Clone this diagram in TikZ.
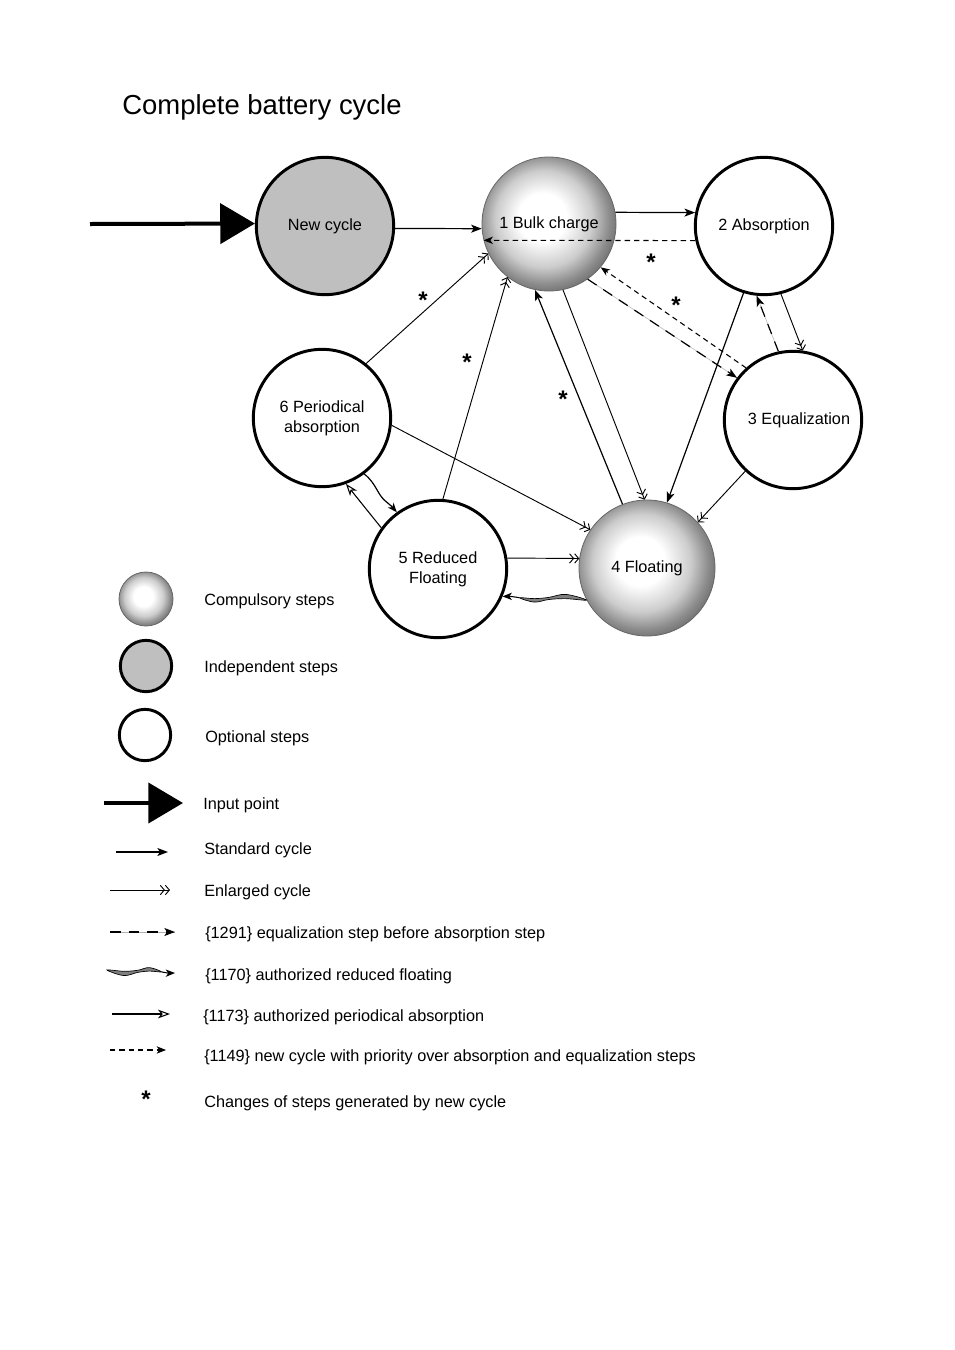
\documentclass[tikz,border=0pt]{standalone}
\usepackage{fontspec}
\setmainfont{Liberation Sans}
\usetikzlibrary{arrows.meta,calc}
\pgfdeclareradialshading{sphere}{\pgfpoint{-3bp}{3bp}}{color(0bp)=(white); color(9bp)=(white); color(18bp)=(black!20); color(24bp)=(black!45); color(28bp)=(black!58); color(50bp)=(black!58)}
\newcommand\swp[3]{($(\tikztostart)!#1!(\tikztotarget)!#2!#3:(\tikztotarget)$)}
\begin{document}
\begin{tikzpicture}[x=0.75pt,y=-0.75pt,
  every node/.style={font=\fontsize{12.2}{15}\selectfont},
  opt/.style={circle, draw, line width=2.2pt, fill=white, inner sep=0pt, minimum size=#1, align=center},
  comp/.style={circle, draw=black!60, line width=0.6pt, shading=sphere, inner sep=0pt, minimum size=#1, align=center},
  std/.style={line width=0.9pt, -{Stealth[length=8pt,width=6pt,inset=2pt]}},
  enl/.style={line width=0.7pt, -{Straight Barb[length=3pt,width=7pt] Straight Barb[length=3pt,width=7pt]}},
  eqd/.style={line width=0.9pt, dash pattern=on 8pt off 6pt, -{Stealth[length=8pt,width=6pt,inset=2pt]}, preaction={draw=black!30, line width=0.4pt, solid, arrows=-}},
  prio/.style={line width=0.8pt, dash pattern=on 4pt off 3pt, -{Stealth[length=7pt,width=5.5pt,inset=2pt]}},
  opd/.style={line width=0.8pt, -{Stealth[open,length=9pt,width=6.5pt,inset=2.5pt]}},
  inp/.style={line width=3pt, -{Triangle[length=26pt,width=30pt]}},
  lens/.style={fill=black!50, draw=black, line width=0.5pt, to path={
    plot[smooth cycle, tension=0.6] coordinates {(\tikztostart) \swp{0.25}{3.6pt}{-90} \swp{0.45}{0.8pt}{-90} \swp{0.62}{0.6pt}{90} \swp{0.8}{0.4pt}{90} \swp{0.62}{3.2pt}{90} \swp{0.45}{0.8pt}{90} \swp{0.25}{0.4pt}{-90}}}},
  tail/.style={line width=0.8pt, -{Stealth[length=7pt,width=5.5pt,inset=2pt]}, to path={\swp{0.8}{0.4pt}{90} .. controls \swp{0.9}{0.3pt}{-90} .. (\tikztotarget)}},
  wave/.style={line width=0.9pt, -{Stealth[length=7pt,width=5.5pt,inset=2pt]}, to path={(\tikztostart) .. controls \swp{0.3}{2.5pt}{90} and \swp{0.5}{3pt}{-90} .. \swp{0.72}{0.8pt}{-90} .. controls \swp{0.85}{0pt}{90} .. (\tikztotarget)}},
  stars/.style={font=\fontsize{18}{18}\bfseries, inner sep=0pt},
  lt/.style={anchor=west, inner sep=0pt}
]
\fill[white] (0,0) rectangle (954,1350);
\useasboundingbox (0,0) rectangle (954,1350);

\node[anchor=west, inner sep=0pt, font=\fontsize{20.6}{24}\selectfont] (title) at (122,107) {Complete battery cycle};

% main nodes
\node[opt=103pt, fill=black!25] (N) at (325,226) {New cycle};
\node[comp=100.5pt] (B) at (549,224) {1 Bulk charge};
\node[opt=103pt] (A) at (764,226) {2 Absorption};
\node[opt=103pt] (E) at (793,420) {\hspace*{9pt}3 Equalization};
\node[comp=102pt] (F) at (647,568) {4 Floating};
\node[opt=103pt] (R) at (438,569) {5 Reduced\\Floating};
\node[opt=103pt] (P) at (322,418) {6 Periodical\\absorption\hspace*{0pt}};

% input
\coordinate (in) at (90,224);
\draw[inp] (in) -- (N.178);

% connectors
\draw[std] (N.-2) -- (B.184);
\draw[std] (B.10) -- (A.169);
\draw[prio] (A.192) -- (B.194);
\draw[eqd] (B.-55) -- (E.143);
\draw[prio] (E.132) -- (B.-40);
\draw[enl] (A.-76) -- (E.82);
\draw[eqd] (E.102) -- (A.-96);
\draw[std] (A.-107) -- (F.73);
\draw[enl] (E.227) -- (F.42);
\draw[enl] (B.-78) -- (F.92);
\draw[std] (F.111) -- (B.-102);
\draw[enl] (P.51) -- (B.206);
\draw[enl] (R.86) -- (B.232);
\draw[enl] (P.-6) -- (F.146);
\draw[enl] (R.9) -- (F.172);
\draw[lens] (F.208) to (R.-23);
\draw[tail] (F.208) to (R.-23);
\draw[opd] (R.144) -- (P.-70);
\draw[wave] (P.-53) to (R.126);

% stars
\node[stars] (s1) at (651,262) {*};
\node[stars] (s2) at (676,305) {*};
\node[stars] (s3) at (563,399) {*};
\node[stars] (s4) at (423,300) {*};
\node[stars] (s5) at (467,362) {*};

% legend
\node[comp=40.5pt] (lc) at (146,599) {};
\node[opt=38.5pt, fill=black!25] (li) at (146,666) {};
\node[opt=38.5pt] (lo) at (145,735) {};
\node[lt] (tc) at (204,601) {Compulsory steps};
\node[lt] (ti) at (204,668) {Independent steps};
\node[lt] (to) at (205,738) {Optional steps};

\coordinate (i1) at (104,803); \coordinate (i2) at (183,803);
\draw[inp] (i1) -- (i2);
\node[lt] (tin) at (203,805) {Input point};

\coordinate (a1) at (116,852); \coordinate (a2) at (168,852);
\draw[std, line width=1.1pt] (a1) -- (a2);
\node[lt] (ta) at (204,850) {Standard cycle};

\coordinate (b1) at (110,890); \coordinate (b2) at (170,890);
\draw[enl] (b1) -- (b2);
\node[lt] (tb) at (204,892) {Enlarged cycle};

\coordinate (c1) at (110,932); \coordinate (c2) at (175,932);
\draw[eqd] (c1) -- (c2);
\node[lt] (tcc) at (205,934) {\{1291\} equalization step before absorption step};

\coordinate (d1) at (107,970); \coordinate (d2) at (175,973);
\draw[lens] (d1) to (d2);
\draw[tail] (d1) to (d2);
\node[lt] (td) at (205,976) {\{1170\} authorized reduced floating};

\coordinate (e1) at (112,1014); \coordinate (e2) at (170,1014);
\draw[opd] (e1) -- (e2);
\node[lt] (te) at (203,1017) {\{1173\} authorized periodical absorption};

\coordinate (f1) at (110,1050); \coordinate (f2) at (166,1050);
\draw[prio] (f1) -- (f2);
\node[lt] (tf) at (204,1057) {\{1149\} new cycle with priority over absorption and equalization steps};

\node[stars] (s6) at (146,1099) {*};
\node[lt] (tg) at (204,1103) {Changes of steps generated by new cycle};
\end{tikzpicture}
\end{document}
